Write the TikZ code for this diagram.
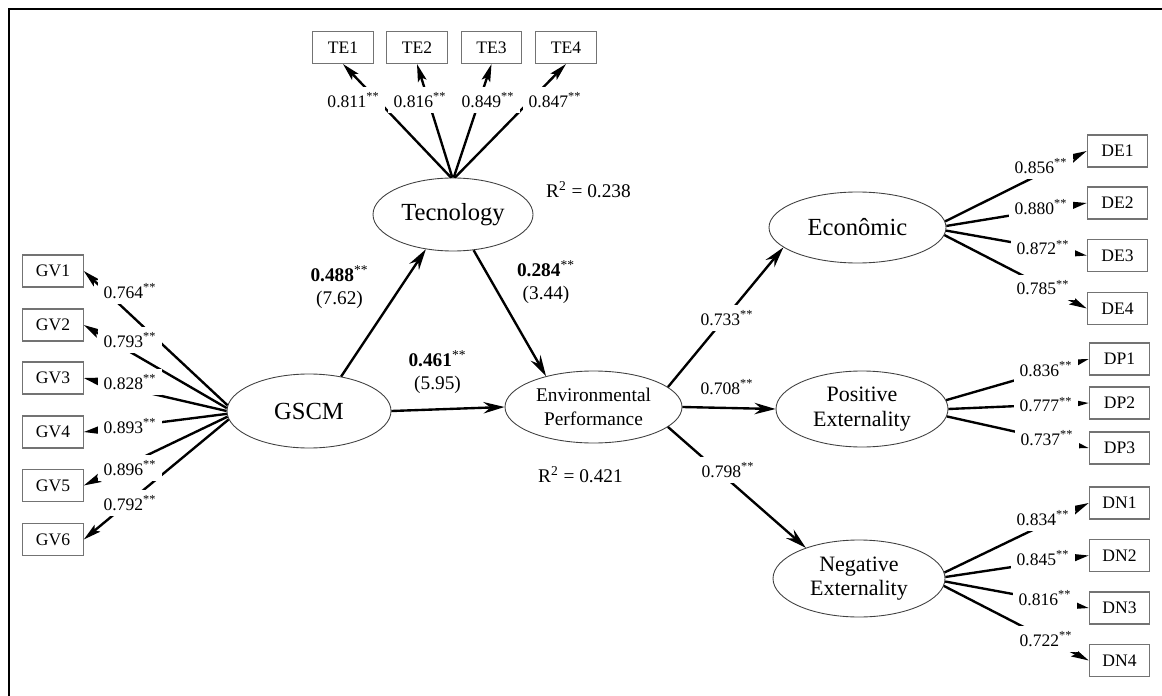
\documentclass[tikz,border=0pt]{standalone}
\usepackage{fontspec}
\setmainfont{Liberation Serif}
\usetikzlibrary{arrows.meta,shapes.geometric}
\newcommand{\starred}[1]{#1\textsuperscript{**}}
\tikzset{
  indicator/.style={rectangle, draw=black!55, line width=0.6pt, minimum width=1.21cm, minimum height=0.64cm, inner sep=0pt, font=\fontsize{10}{12}\selectfont},
  construct/.style={ellipse, draw=black!75, line width=0.5pt, inner sep=0pt, align=center},
  loading/.style={-{Stealth[length=10pt, width=5pt, inset=2pt]}, line width=1.35pt},
  structarrow/.style={-{Stealth[length=12pt, width=6.5pt, inset=4pt]}, line width=1.35pt},
  coef/.style={fill=white, inner sep=3pt, font=\fontsize{10}{12}\selectfont},
  pathcoef/.style={align=center, inner sep=1pt, font=\fontsize{11}{13}\selectfont},
  frameline/.style={line width=1pt}
}

\begin{document}
\begin{tikzpicture}
  \useasboundingbox (0,0) rectangle (23.24,-13.92);
  \draw[frameline] (0.186,-13.92) -- (0.186,-0.186) -- (23.24,-0.186);

  % latent constructs
  \node[construct, minimum width=3.2cm, minimum height=1.46cm, font=\fontsize{14}{16}\selectfont] (tech) at (9.06,-4.29) {Tecnology};
  \node[construct, minimum width=3.28cm, minimum height=1.48cm, font=\fontsize{14}{16}\selectfont] (gscm) at (6.18,-8.22) {GSCM};
  \node[construct, minimum width=3.54cm, minimum height=1.44cm, font=\fontsize{11}{14}\selectfont] (ep) at (11.87,-8.14) {Environmental\\Performance};
  \node[construct, minimum width=3.54cm, minimum height=1.42cm, font=\fontsize{14}{16}\selectfont] (econ) at (17.15,-4.55) {Econômic};
  \node[construct, minimum width=3.44cm, minimum height=1.52cm, font=\fontsize{12.5}{14}\selectfont] (pe) at (17.24,-8.18) {Positive\\Externality};
  \node[construct, minimum width=3.44cm, minimum height=1.54cm, font=\fontsize{12.5}{14}\selectfont] (ne) at (17.18,-11.57) {Negative\\Externality};

  % indicators
  \foreach \name/\txt/\x/\y in {te1/TE1/6.86/-0.95, te2/TE2/8.34/-0.95, te3/TE3/9.83/-0.95, te4/TE4/11.32/-0.95,
      gv1/GV1/1.06/-5.42, gv2/GV2/1.06/-6.50, gv3/GV3/1.06/-7.56, gv4/GV4/1.06/-8.64, gv5/GV5/1.06/-9.71, gv6/GV6/1.06/-10.79,
      de1/DE1/22.35/-3.02, de2/DE2/22.35/-4.06, de3/DE3/22.35/-5.11, de4/DE4/22.35/-6.17,
      dp1/DP1/22.39/-7.18, dp2/DP2/22.39/-8.06, dp3/DP3/22.39/-8.96,
      dn1/DN1/22.39/-10.06, dn2/DN2/22.39/-11.11, dn3/DN3/22.39/-12.16, dn4/DN4/22.39/-13.21}
    \node[indicator] (\name) at (\x,\y) {\txt};

  % loadings
  \foreach \src/\ang/\dst/\side in {tech/93/te1/south, tech/91/te2/south, tech/89/te3/south, tech/87/te4/south,
      gscm/176/gv1/east, gscm/178/gv2/east, gscm/180/gv3/east, gscm/182/gv4/east, gscm/184/gv5/east, gscm/186/gv6/east,
      econ/4/de1/west, econ/1/de2/west, econ/358/de3/west, econ/355/de4/west,
      pe/6/dp1/west, pe/0/dp2/west, pe/355/dp3/west,
      ne/4/dn1/west, ne/1/dn2/west, ne/358/dn3/west, ne/355/dn4/west}
    \draw[loading] (\src.\ang) -- (\dst.\side);

  % structural paths
  \draw[structarrow] (gscm.47) -- (tech.232);
  \draw[structarrow] (tech.300) -- (ep.147);
  \draw[structarrow] (gscm.east) -- (ep.west);
  \draw[structarrow] (ep.15) -- (econ.195);
  \draw[structarrow] (ep.east) -- (pe.west);
  \draw[structarrow] (ep.345) -- (ne.150);

  % coefficients
  \foreach \name/\val/\x/\y in {lte1/0.811/7.07/-2.0, lte2/0.816/8.40/-2.0, lte3/0.849/9.76/-2.0, lte4/0.847/11.10/-2.0,
      lgv1/0.764/2.6/-5.82, lgv2/0.793/2.6/-6.80, lgv3/0.828/2.6/-7.64, lgv4/0.893/2.6/-8.52, lgv5/0.896/2.6/-9.36, lgv6/0.792/2.6/-10.06,
      lde1/0.856/20.82/-3.32, lde2/0.880/20.82/-4.14, lde3/0.872/20.86/-4.95, lde4/0.785/20.86/-5.75,
      ldp1/0.836/20.92/-7.38, ldp2/0.777/20.92/-8.09, ldp3/0.737/20.94/-8.76,
      ldn1/0.834/20.86/-10.36, ldn2/0.845/20.86/-11.16, ldn3/0.816/20.90/-11.96, ldn4/0.722/20.92/-12.78,
      lecon/0.733/14.54/-6.36, lpe/0.708/14.54/-7.74, lne/0.798/14.56/-9.40}
    \node[coef] (\name) at (\x,\y) {\starred{\val}};

  \node[pathcoef] (cgt) at (6.79,-5.74) {\textbf{0.488}\textsuperscript{**}\\(7.62)};
  \node[pathcoef] (cge) at (8.75,-7.44) {\textbf{0.461}\textsuperscript{**}\\(5.95)};
  \node[pathcoef] (cte) at (10.92,-5.64) {\textbf{0.284}\textsuperscript{**}\\(3.44)};
  \node[pathcoef] (r2tech) at (11.77,-3.80) {R\textsuperscript{2} = 0.238};
  \node[pathcoef] (r2ep) at (11.61,-9.50) {R\textsuperscript{2} = 0.421};
\end{tikzpicture}
\end{document}
